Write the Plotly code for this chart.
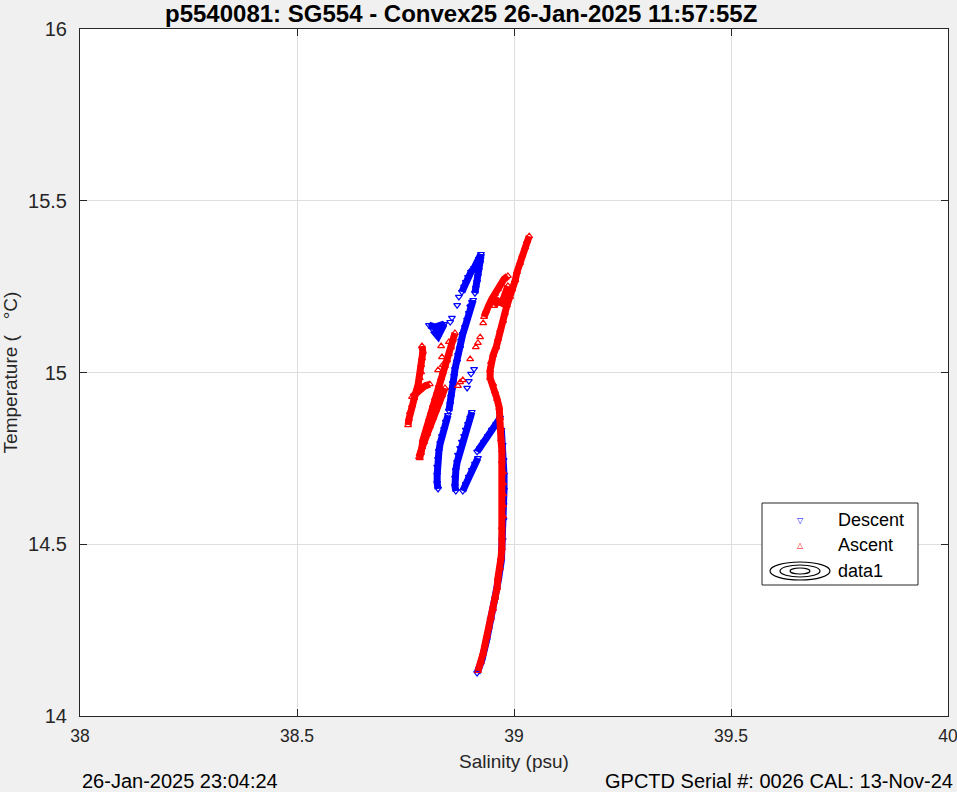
import plotly.graph_objects as go

# ---------------- data (salinity psu, temperature degC) ----------------
# Ascent (red) dense bands, separated by None
asc_band_S = [38.917, 38.924, 38.929, 38.933, 38.938, 38.942, 38.947, 38.952, 38.956, 38.961, 38.963, 38.968,
              38.970, 38.972, 38.972, 38.972, 38.975, 38.975, 38.975, 38.975, 38.975, 38.972, 38.972, 38.970,
              38.970, 38.968, 38.966, 38.961, 38.956, 38.952, 38.945, 38.945, 38.947,
              38.952, 38.959, 38.963, 38.968, 38.975, 38.979, 38.984, 38.991, 38.996, 39.003, 39.007, 39.014,
              39.019, 39.026, 39.030, 39.035,
              None,
              38.931, 38.935, 38.942, 38.949, 38.956, 38.963, 38.970, 38.977, 38.986,
              None,
              38.954, 38.963, 38.972, 38.979, 38.986,
              None,
              38.788, 38.790, 38.788, 38.786, 38.786, 38.783, 38.779, 38.774, 38.770, 38.765, 38.760, 38.758, 38.756,
              None,
              38.765, 38.774, 38.783, 38.795, 38.806,
              None,
              38.864, 38.859, 38.855, 38.850, 38.846, 38.841, 38.836, 38.832, 38.827, 38.823, 38.818, 38.813,
              38.809, 38.804, 38.800, 38.795, 38.790, 38.788, 38.786, 38.783,
              None,
              38.841, 38.834, 38.827, 38.820, 38.813, 38.806, 38.800, 38.793, 38.786, 38.781]
asc_band_T = [14.131, 14.157, 14.183, 14.207, 14.233, 14.259, 14.285, 14.312, 14.344, 14.373, 14.402, 14.431,
              14.460, 14.489, 14.518, 14.550, 14.582, 14.614, 14.646, 14.678, 14.710, 14.742, 14.774, 14.806,
              14.838, 14.868, 14.897, 14.923, 14.946, 14.967, 14.984, 15.007, 15.031,
              15.051, 15.074, 15.098, 15.124, 15.150, 15.173, 15.196, 15.220, 15.243, 15.269, 15.293, 15.319,
              15.342, 15.365, 15.383, 15.397,
              None,
              15.162, 15.179, 15.196, 15.214, 15.229, 15.243, 15.258, 15.272, 15.281,
              None,
              15.194, 15.208, 15.202, 15.226, 15.252,
              None,
              15.077, 15.060, 15.042, 15.022, 15.001, 14.984, 14.964, 14.943, 14.926, 14.905, 14.885, 14.865, 14.847,
              None,
              14.929, 14.940, 14.952, 14.961, 14.966,
              None,
              15.115, 15.095, 15.074, 15.054, 15.036, 15.019, 15.001, 14.984, 14.964, 14.943, 14.926, 14.905,
              14.885, 14.865, 14.844, 14.824, 14.803, 14.783, 14.766, 14.751,
              None,
              14.955, 14.934, 14.914, 14.891, 14.868, 14.844, 14.821, 14.798, 14.774, 14.754]
# Ascent (red) isolated samples
asc_pts_S = [38.929, 38.922, 38.917, 38.912, 38.899, 38.882, 38.876, 38.871, 38.832, 38.834, 38.850, 38.825, 38.836]
asc_pts_T = [15.144, 15.103, 15.086, 15.074, 15.039, 14.978, 14.972, 14.961, 15.077, 15.045, 15.089, 15.007, 15.022]

# Descent (blue) dense bands
desc_band_S = [38.924, 38.919, 38.915, 38.908, 38.901, 38.894, 38.889, 38.885, 38.880,
               None,
               38.924, 38.922, 38.919, 38.917, 38.915, 38.912, 38.910,
               None,
               38.804, 38.811, 38.818, 38.825, 38.832, 38.839, 38.825, 38.820, 38.813,
               None,
               38.906, 38.901, 38.896, 38.892, 38.887, 38.882, 38.878, 38.876, 38.871, 38.869, 38.864, 38.862,
               38.859, 38.857, 38.855, 38.853, 38.850,
               None,
               38.903, 38.899, 38.894, 38.889, 38.885, 38.880, 38.876, 38.871, 38.869, 38.866, 38.864, 38.864, 38.866,
               None,
               38.848, 38.843, 38.839, 38.834, 38.830, 38.827, 38.825, 38.823, 38.823, 38.823, 38.825,
               None,
               38.917, 38.910, 38.903, 38.896, 38.889, 38.882,
               None,
               38.968, 38.959, 38.949, 38.940, 38.931, 38.922, 38.915,
               None,
               38.971, 38.974, 38.976, 38.977, 38.977, 38.976, 38.976, 38.974, 38.971, 38.964, 38.956, 38.946,
               38.937, 38.926, 38.915]
desc_band_T = [15.345, 15.330, 15.316, 15.304, 15.293, 15.278, 15.263, 15.249, 15.234,
               None,
               15.339, 15.319, 15.298, 15.281, 15.263, 15.246, 15.231,
               None,
               15.138, 15.135, 15.132, 15.135, 15.138, 15.141, 15.106, 15.115, 15.124,
               None,
               15.211, 15.194, 15.173, 15.153, 15.132, 15.112, 15.092, 15.071, 15.051, 15.031, 15.010, 14.990,
               14.969, 14.949, 14.929, 14.908, 14.888,
               None,
               14.885, 14.868, 14.850, 14.833, 14.815, 14.798, 14.780, 14.760, 14.739, 14.716, 14.693, 14.669, 14.655,
               None,
               14.876, 14.856, 14.835, 14.815, 14.794, 14.771, 14.748, 14.725, 14.702, 14.678, 14.661,
               None,
               14.751, 14.734, 14.716, 14.696, 14.675, 14.655,
               None,
               14.868, 14.850, 14.833, 14.815, 14.798, 14.780, 14.769,
               None,
               14.833, 14.789, 14.745, 14.702, 14.658, 14.614, 14.571, 14.512, 14.454, 14.396, 14.338, 14.280,
               14.221, 14.163, 14.125]
# Descent (blue) isolated samples
desc_pts_S = [38.873, 38.869, 38.903, 38.899, 38.857, 38.853, 38.908, 38.901, 38.896, 38.892]
desc_pts_T = [15.220, 15.196, 15.205, 15.191, 15.159, 15.147, 15.010, 14.996, 14.975, 14.955]

x_ticks = [38, 38.5, 39, 39.5, 40]
y_ticks = [14, 14.5, 15, 15.5, 16]

title_text = "p5540081: SG554 - Convex25 26-Jan-2025 11:57:55Z"
left_footer = "26-Jan-2025 23:04:24"
right_footer = "GPCTD Serial #: 0026 CAL: 13-Nov-24"
legend_names = ["Descent", "Ascent", "data1"]

FONT = "Liberation Sans, Arial, Helvetica, sans-serif"
BLUE = "#0000ff"
RED = "#ff0000"
AX = "#262626"

fig = go.Figure()

def add_series(bs, bt, ps, pt, color, symbol):
    fig.add_trace(go.Scatter(x=bs, y=bt, mode="lines+markers", connectgaps=False,
                             line=dict(color=color, width=7),
                             marker=dict(symbol=symbol, size=6, color=color, line=dict(color=color, width=1.2)),
                             showlegend=False, hoverinfo="skip"))
    fig.add_trace(go.Scatter(x=ps, y=pt, mode="markers",
                             marker=dict(symbol=symbol, size=6, color=color, line=dict(color=color, width=1.2)),
                             showlegend=False, hoverinfo="skip"))

add_series(desc_band_S, desc_band_T, desc_pts_S, desc_pts_T, BLUE, "triangle-down-open")
add_series(asc_band_S, asc_band_T, asc_pts_S, asc_pts_T, RED, "triangle-up-open")

axis_common = dict(showline=True, linecolor=AX, linewidth=1, mirror="ticks", ticks="inside",
                   ticklen=7, tickcolor=AX, showgrid=True, gridcolor="#dedede", gridwidth=1,
                   zeroline=False, ticklabeloverflow="allow")

fig.update_xaxes(range=[38, 40], tickvals=x_ticks, ticktext=[f"{v:g}" for v in x_ticks],
                 ticklabelstandoff=4, tickfont=dict(family=FONT, size=17.5, color=AX),
                 title=dict(text="Salinity (psu)", font=dict(family=FONT, size=19, color=AX), standoff=9),
                 **axis_common)
fig.update_yaxes(range=[14, 16], tickvals=y_ticks, ticktext=[f"{v:g}" for v in y_ticks],
                 ticklabelstandoff=8, tickfont=dict(family=FONT, size=20, color=AX),
                 title=dict(text="Temperature (   °C)", font=dict(family=FONT, size=19, color=AX), standoff=6),
                 **axis_common)

# manual legend (paper coordinates)
W, H = 957, 792
L, R, T, B = 80, 9, 29, 76
pw, ph = W - L - R, H - T - B
def px(x):
    return (x - L) / pw
def py(y):
    return (H - B - y) / ph

shapes = [dict(type="rect", xref="paper", yref="paper", x0=px(762), x1=px(918), y0=py(585), y1=py(503),
               line=dict(color=AX, width=1), fillcolor="white", layer="above")]
for (w, h) in [(60, 18), (40, 12), (20, 6)]:
    shapes.append(dict(type="circle", xref="paper", yref="paper", x0=px(800 - w / 2), x1=px(800 + w / 2),
                       y0=py(571 + h / 2), y1=py(571 - h / 2), line=dict(color="black", width=1.2),
                       layer="above"))

annotations = [
    dict(text=f"<b>{title_text}</b>", xref="paper", yref="paper", x=px(461), y=py(13), showarrow=False,
         xanchor="center", yanchor="middle", font=dict(family=FONT, size=24, color="black")),
    dict(text=left_footer, xref="paper", yref="paper", x=px(80), y=py(781), showarrow=False,
         xanchor="left", yanchor="middle", font=dict(family=FONT, size=20, color="black")),
    dict(text=right_footer, xref="paper", yref="paper", x=px(955), y=py(781), showarrow=False,
         xanchor="right", yanchor="middle", font=dict(family=FONT, size=20, color="black")),
    dict(text="▽", xref="paper", yref="paper", x=px(800), y=py(520), showarrow=False,
         xanchor="center", yanchor="middle", font=dict(family="DejaVu Sans", size=8, color=BLUE)),
    dict(text="△", xref="paper", yref="paper", x=px(800), y=py(545), showarrow=False,
         xanchor="center", yanchor="middle", font=dict(family="DejaVu Sans", size=8, color=RED)),
]
for name, yy in zip(legend_names, [520, 545, 571]):
    annotations.append(dict(text=name, xref="paper", yref="paper", x=px(836), y=py(yy), showarrow=False,
                            xanchor="left", yanchor="middle", font=dict(family=FONT, size=18, color="black")))

fig.update_layout(width=W, height=H, margin=dict(l=L, r=R, t=T, b=B, autoexpand=False),
                  paper_bgcolor="#f0f0f0", plot_bgcolor="white", showlegend=False,
                  shapes=shapes, annotations=annotations, font=dict(family=FONT))

fig.write_html("out.html", config={"displayModeBar": False},
               post_script="document.body.style.margin='0';document.body.style.overflow='hidden';")
